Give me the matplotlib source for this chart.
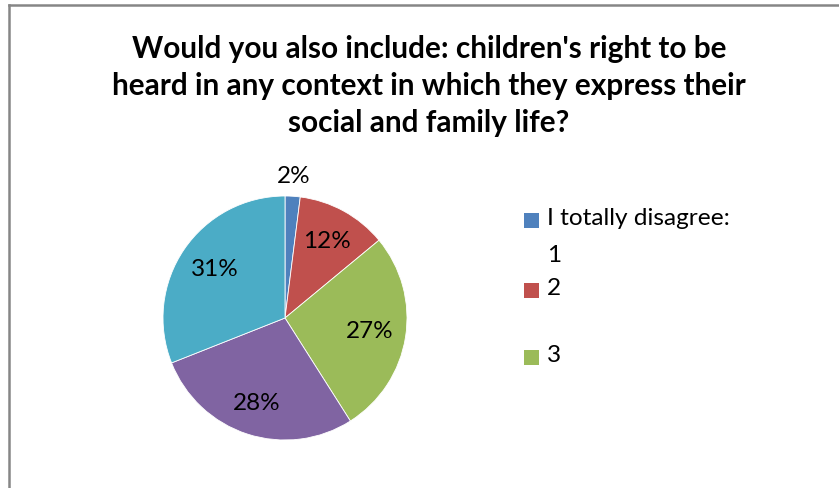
import numpy as np
import matplotlib
matplotlib.use("Agg")
import matplotlib.pyplot as plt
from matplotlib.lines import Line2D
from matplotlib.patches import Rectangle

# Survey responses (share of answers, %)
categories = ["I totally disagree:\n1", "2", "3", "4", "5"]
shares = [2, 12, 27, 28, 31]
colors = ["#4F81BD", "#C0504D", "#9BBB59", "#8064A2", "#4BACC6"]
# distance of each percentage label from the centre, as a fraction of the radius
label_radius = [1.16, 0.72, 0.70, 0.74, 0.70]
title = ("Would you also include: children's right to be\n"
         "heard in any context in which they express their\n"
         "social and family life?")
legend_entries = 3  # entries that fit in the legend box

W, H = 839, 488
fig = plt.figure(figsize=(W / 100, H / 100), dpi=100)
plt.rcParams["font.family"] = ["Lato", "DejaVu Sans"]

# chart frame (left and top edges)
frame_kw = dict(color="#868686", lw=1.8, transform=fig.transFigure)
fig.add_artist(Line2D([8.5 / W, 8.5 / W], [0, 1 - 4.5 / H], **frame_kw))
fig.add_artist(Line2D([8.5 / W, 1.0], [1 - 4.5 / H, 1 - 4.5 / H], **frame_kw))

fig.text(429 / W, 1 - 86 / H, title, ha="center", va="center",
         fontsize=21.4, fontweight="bold", linespacing=1.37, color="black")

# pie
cx, cy, r = 285, 318, 122
ax = fig.add_axes([(cx - r) / W, (H - cy - r) / H, 2 * r / W, 2 * r / H])
wedges, _ = ax.pie(shares, colors=colors, startangle=90, counterclock=False,
                   radius=1, wedgeprops=dict(edgecolor="white", linewidth=0.6))
ax.set_xlim(-1, 1)
ax.set_ylim(-1, 1)
ax.set_aspect("equal")
ax.axis("off")

total = float(sum(shares))
cum = 0.0
for v, d in zip(shares, label_radius):
    mid = (cum + v / 2) / total
    cum += v
    ang = np.deg2rad(90 - 360 * mid)
    ax.text(d * np.cos(ang), d * np.sin(ang), f"{v}%", ha="center",
            va="center", fontsize=17.5, color="black", clip_on=False)

# legend
sq = 15
ys = [220, 290, 357]
for lab, col, y in zip(categories[:legend_entries], colors, ys):
    fig.add_artist(Rectangle((524 / W, (H - y - sq / 2) / H), sq / W, sq / H,
                             facecolor=col, edgecolor="none",
                             transform=fig.transFigure))
    fig.text(547 / W, 1 - (y - 12) / H, lab, ha="left", va="top",
             fontsize=17.6, linespacing=1.95, color="black")

fig.savefig("out.png", dpi=100)
